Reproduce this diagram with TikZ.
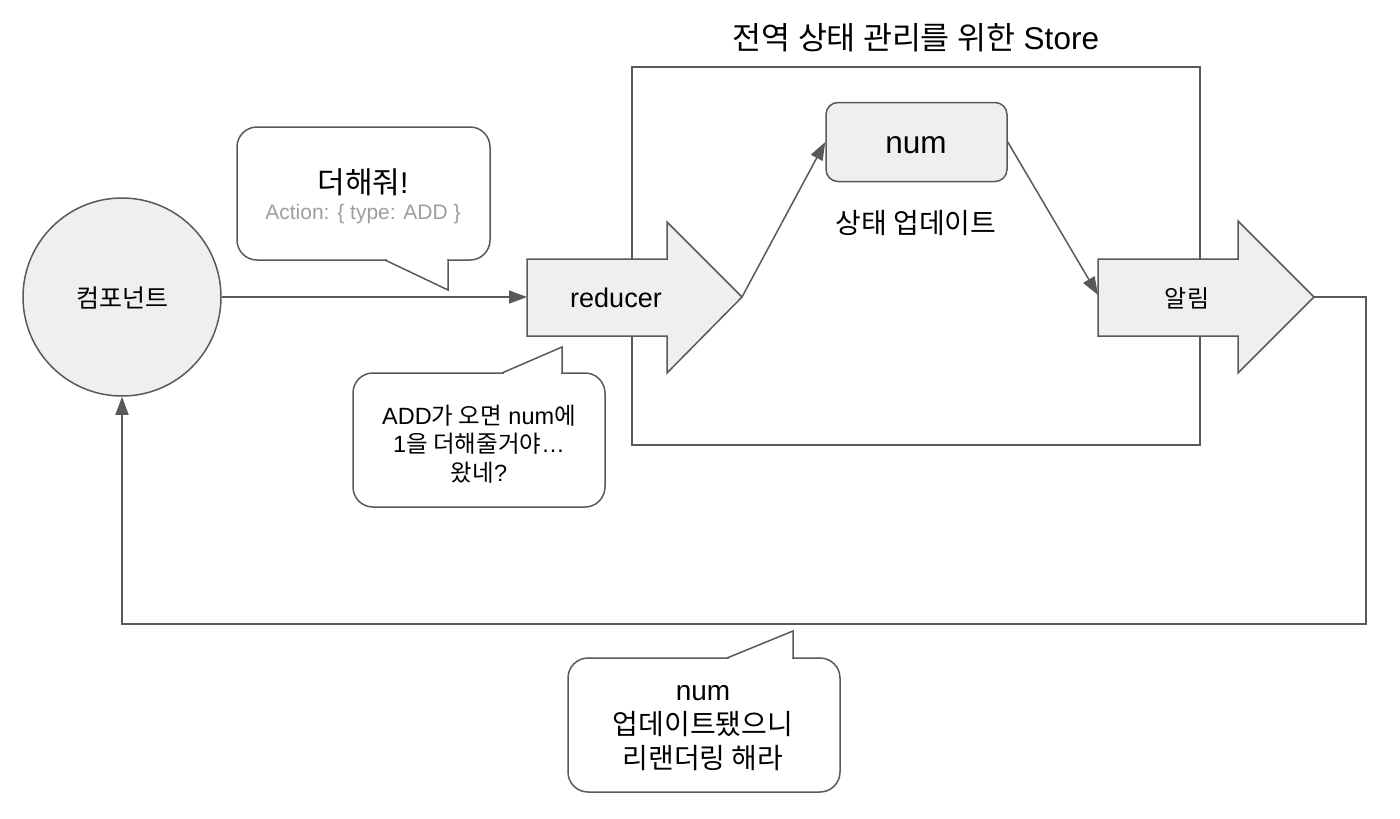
\documentclass[tikz,border=0pt]{standalone}
\usepackage{fontspec}
\setmainfont{Liberation Sans}
\newfontfamily\krf{Noto Sans CJK KR}
\newcommand\ko[1]{{\krf #1}}
\usetikzlibrary{arrows.meta}
\definecolor{ln}{HTML}{595959}
\definecolor{fl}{HTML}{EFEFEF}
\definecolor{gt}{HTML}{9E9E9E}
\begin{document}
\begin{tikzpicture}[x=1pt,y=-1pt,
  line/.style={draw=ln, line width=1.5pt},
  arr/.style={line, -{Triangle[length=18pt,width=13pt]}},
  shapebox/.style={line, fill=fl},
  bubble/.style={line, fill=white, rectangle, rounded corners=20pt, inner sep=0pt},
  txt/.style={inner sep=0pt, text=black, align=center}]
\useasboundingbox (0,0) rectangle (1400,819);

% store
\node[line, rectangle, minimum width=568pt, minimum height=378pt, inner sep=0pt] (store) at (916,256) {};
\node[txt, font=\fontsize{31.5}{36}\selectfont] (title) at (916,38) {\ko{전역 상태 관리를 위한} Store};

% component
\node[shapebox, circle, minimum size=198pt, inner sep=0pt] (comp) at (122,297) {};
\node[txt, font=\fontsize{25}{30}\selectfont] (compt) at (122,298) {\ko{컴포넌트}};

% reducer arrow
\draw[shapebox] (527,259) -- (667,259) -- (667,222) -- (742,297) -- (667,373) -- (667,336) -- (527,336) -- cycle;
\coordinate (redL) at (527,297);
\coordinate (redT) at (742,297);
\node[txt, font=\fontsize{27}{30}\selectfont] (reducer) at (616,298) {reducer};

% alarm arrow
\draw[shapebox] (1098,259) -- (1238,259) -- (1238,221) -- (1314,297) -- (1238,373) -- (1238,336) -- (1098,336) -- cycle;
\coordinate (alL) at (1098,295);
\coordinate (alT) at (1314,297);
\node[txt, font=\fontsize{24}{30}\selectfont] (alarm) at (1187,298) {\ko{알림}};

% num
\node[shapebox, rectangle, rounded corners=12pt, minimum width=181pt, minimum height=79pt, inner sep=0pt] (num) at (916.5,142) {};
\node[txt, font=\fontsize{31.5}{34}\selectfont] (numt) at (916,145) {num};
\node[txt, font=\fontsize{28}{30}\selectfont] (upd) at (916,223) {\ko{상태 업데이트}};

% connectors
\draw[arr] (comp.east) -- (redL);
\draw[arr] (redT) -- (num.west);
\draw[arr] (num.east) -- (alL);
\draw[arr] (alT) -- (1366,297) -- (1366,624) -| (comp.south);

% bubble 1
\node[bubble, minimum width=253pt, minimum height=133pt] (b1) at (363.5,193.5) {};
\fill[white] (386.5,256) rectangle (447.2,263);
\fill[white] (385,260) -- (448,290) -- (448,260) -- cycle;
\draw[line] (385,260) -- (448,290) -- (448,259.25);
\node[txt, font=\fontsize{30}{34}\selectfont] (b1a) at (363,182) {\ko{더해줘}!};
\node[txt, text=gt, font=\fontsize{21}{26}\selectfont] (b1b) at (363,214) {Action: \{ type: ADD \}};

% bubble 2
\node[bubble, minimum width=252pt, minimum height=134pt] (b2) at (479,440) {};
\fill[white] (503.5,370) rectangle (561.2,377);
\fill[white] (502,373) -- (562,347) -- (562,373) -- cycle;
\draw[line] (502,373) -- (562,347) -- (562,373.75);
\node[txt, font=\fontsize{23.5}{28.5}\selectfont] (b2t) at (479,444) {ADD\ko{가 오면} num\ko{에}\\1\ko{을 더해줄거야}…\\\ko{왔네}?};

% bubble 3
\node[bubble, minimum width=272pt, minimum height=134pt] (b3) at (704,725) {};
\fill[white] (728.5,655) rectangle (792.2,662);
\fill[white] (727,658) -- (793,631) -- (793,658) -- cycle;
\draw[line] (727,658) -- (793,631) -- (793,658.75);
\node[txt, font=\fontsize{28}{34}\selectfont] (b3t) at (703,728) {num\\\ko{업데이트됐으니}\\\ko{리랜더링 해라}};
\end{tikzpicture}
\end{document}
